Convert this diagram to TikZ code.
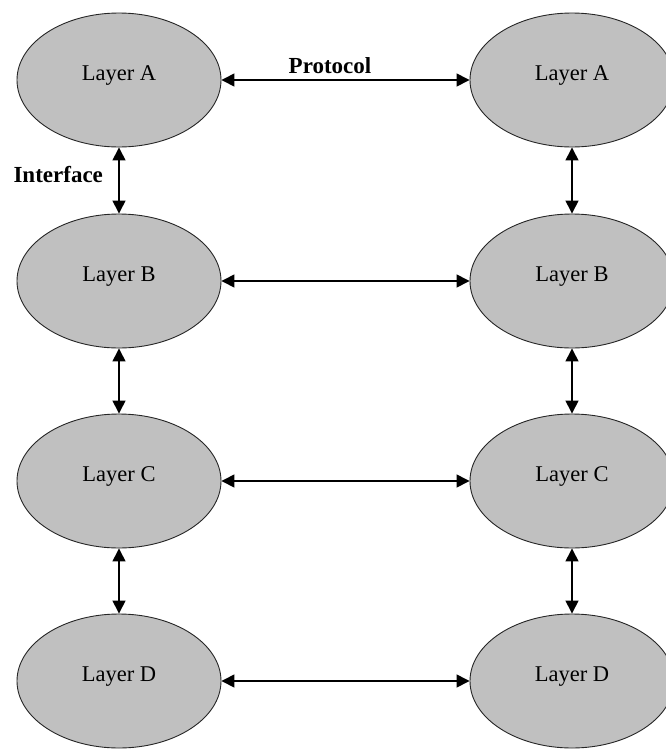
\documentclass[tikz,border=0pt]{standalone}
\usepackage{fontspec}
\setmainfont{Liberation Serif}
\usetikzlibrary{shapes.geometric,arrows.meta}
\begin{document}
\begin{tikzpicture}[x=1pt,y=-1pt,
  layer/.style={ellipse, draw=black!85, line width=0.9pt, fill=lgray,
    minimum width=204pt, minimum height=134pt, inner sep=0pt},
  ltext/.style={anchor=base, font=\fontsize{22.5}{22.5}\selectfont},
  btext/.style={font=\fontsize{23}{23}\selectfont\bfseries},
  link/.style={line width=1.4pt, {Triangle[length=13pt,width=13pt]}-{Triangle[length=13pt,width=13pt]}}]
\definecolor{lgray}{RGB}{192,192,192}
\useasboundingbox (0,0) rectangle (665,750);
% left stack
\node[layer] (LA) at (119,80) {};
\node[layer] (LB) at (119,281) {};
\node[layer] (LC) at (119,481) {};
\node[layer] (LD) at (119,681) {};
% right stack
\node[layer] (RA) at (572,80) {};
\node[layer] (RB) at (572,281) {};
\node[layer] (RC) at (572,481) {};
\node[layer] (RD) at (572,681) {};
% layer names
\foreach \n/\t in {LA/A,LB/B,LC/C,LD/D,RA/A,RB/B,RC/C,RD/D}
  \node[ltext] (t\n) at (\n.center) {Layer \t};
% peer-to-peer links
\draw[link] (LA.east) -- (RA.west);
\draw[link] (LB.east) -- (RB.west);
\draw[link] (LC.east) -- (RC.west);
\draw[link] (LD.east) -- (RD.west);
% interfaces between adjacent layers
\draw[link] (LA.south) -- (LB.north);
\draw[link] (LB.south) -- (LC.north);
\draw[link] (LC.south) -- (LD.north);
\draw[link] (RA.south) -- (RB.north);
\draw[link] (RB.south) -- (RC.north);
\draw[link] (RC.south) -- (RD.north);
% labels
\node[btext, anchor=base] (proto) at (330,73) {Protocol};
\node[btext, anchor=base west] (iface) at (10,182) {Interface};
\end{tikzpicture}
\end{document}
